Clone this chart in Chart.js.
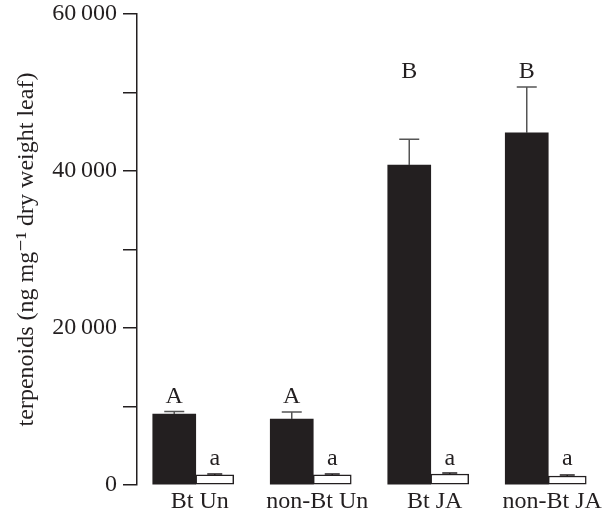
<!DOCTYPE html>
<html>
<head>
<meta charset="utf-8">
<script src="https://cdn.jsdelivr.net/npm/chart.js@4"></script>
<style>
  html, body { margin: 0; padding: 0; background: #fff; }
  #wrap { width: 611px; height: 516px; position: relative; }
</style>
</head>
<body>
<div id="wrap"><canvas id="chart"></canvas></div>
<script>
// données
const categories = ['Bt Un', 'non-Bt Un', 'Bt JA', 'non-Bt JA'];
const blackValues = [9050, 8400, 40760, 44850];   // barres noires
const blackErrors = [300, 900, 3300, 5850];
const whiteValues = [1280, 1280, 1400, 1150];     // barres blanches
const whiteErrors = [130, 130, 130, 130];
const upperLetters = ['A', 'A', 'B', 'B'];
const upperLetterLevel = [10450, 10450, 51850, 51850];
const lowerLetters = ['a', 'a', 'a', 'a'];
const lowerLetterLevel = [2550, 2550, 2550, 2550];
const yTicks = [0, 20000, 40000, 60000];

const ink = '#231f20';
const serif = '"Liberation Serif", "DejaVu Serif", serif';

// barres d'erreur et lettres dessinées après les barres
const extras = {
  id: 'extras',
  afterDatasetsDraw(chart) {
    const ctx = chart.ctx;
    const y = chart.scales.y;
    const sets = [
      { meta: chart.getDatasetMeta(0), vals: blackValues, errs: blackErrors, cap: 20, color: '#555' },
      { meta: chart.getDatasetMeta(1), vals: whiteValues, errs: whiteErrors, cap: 15, color: ink }
    ];
    ctx.save();
    ctx.lineWidth = 1.5;
    sets.forEach(s => {
      s.meta.data.forEach((bar, i) => {
        const yTop = y.getPixelForValue(s.vals[i]);
        const yErr = y.getPixelForValue(s.vals[i] + s.errs[i]);
        ctx.strokeStyle = s.color;
        ctx.beginPath();
        ctx.moveTo(bar.x, yTop);
        ctx.lineTo(bar.x, yErr);
        ctx.moveTo(bar.x - s.cap / 2, yErr);
        ctx.lineTo(bar.x + s.cap / 2, yErr);
        ctx.stroke();
      });
    });
    ctx.fillStyle = ink;
    ctx.font = '24px ' + serif;
    ctx.textAlign = 'center';
    ctx.textBaseline = 'alphabetic';
    chart.getDatasetMeta(0).data.forEach((bar, i) => {
      ctx.fillText(upperLetters[i], bar.x, y.getPixelForValue(upperLetterLevel[i]));
    });
    chart.getDatasetMeta(1).data.forEach((bar, i) => {
      ctx.fillText(lowerLetters[i], bar.x, y.getPixelForValue(lowerLetterLevel[i]));
    });
    ctx.restore();
  }
};

new Chart(document.getElementById('chart'), {
  type: 'bar',
  data: {
    labels: categories,
    datasets: [
      {
        data: blackValues,
        backgroundColor: ink,
        borderWidth: 0,
        barThickness: 43
      },
      {
        data: whiteValues,
        backgroundColor: '#fff',
        borderColor: ink,
        borderWidth: 1.5,
        borderSkipped: false,
        barThickness: 38
      }
    ]
  },
  options: {
    responsive: true,
    maintainAspectRatio: false,
    animation: false,
    layout: { padding: { top: 0, right: 4, left: 0, bottom: 0 } },
    plugins: {
      legend: { display: false },
      tooltip: { enabled: false }
    },
    scales: {
      x: {
        grid: { display: false },
        border: { display: false },
        ticks: {
          color: ink,
          font: { family: serif, size: 24 },
          padding: -6,
          labelOffset: 4,
          maxRotation: 0
        },
        afterFit(scale) { scale.height = 31; }
      },
      y: {
        min: 0,
        max: 60000,
        border: { display: true, color: ink, width: 1.5 },
        grid: {
          drawOnChartArea: false,
          drawTicks: true,
          tickLength: 14,
          color: ink,
          lineWidth: 1.5
        },
        ticks: {
          stepSize: 10000,
          color: ink,
          padding: 6,
          font: { family: serif, size: 24 },
          callback: v => yTicks.includes(v) ? String(v).replace(/(\d)(?=(\d{3})+$)/g, '$1\u2009') : ''
        },
        title: {
          display: true,
          text: 'terpenoids (ng mg\u207B\u00B9 dry weight leaf)',
          color: ink,
          font: { family: serif, size: 24 },
          padding: { top: 12, bottom: 0 }
        },
        afterFit(scale) {
          scale.width = 137;
          scale.paddingTop = 14;
        }
      }
    }
  },
  plugins: [extras]
});
</script>
</body>
</html>
